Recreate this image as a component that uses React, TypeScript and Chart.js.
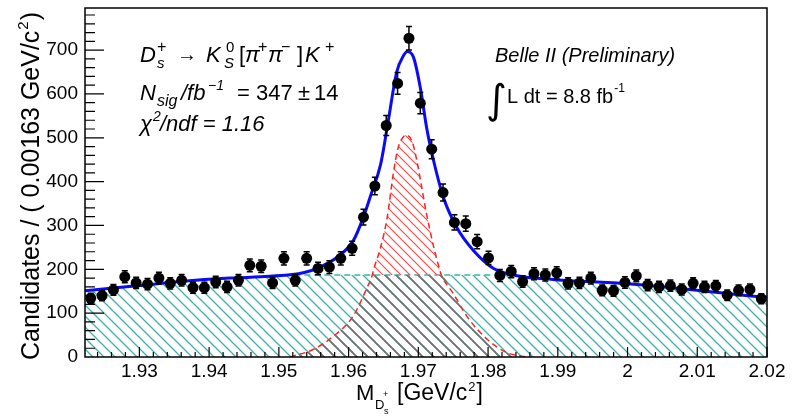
import React, { useEffect, useRef } from "react";
import { Chart, registerables } from "chart.js";

Chart.register(...registerables);

const FONT = "'Liberation Sans', Arial, sans-serif";

// Histogram binning
const X_MIN = 1.9222;
const X_MAX = 2.02;
const BIN_WIDTH = 0.00163;
const Y_MAX = 796;

// Candidates per bin (60 bins)
const counts = [
  134, 140, 153, 183, 169, 166, 180, 168, 175, 158,
  158, 171, 160, 175, 209, 207, 169, 225, 175, 225,
  202, 205, 225, 248, 319, 390, 528, 624, 727, 579,
  474, 375, 307, 304, 263, 226, 186, 195, 172, 190,
  187, 192, 168, 169, 180, 152, 151, 170, 185, 164,
  160, 163, 154, 168, 160, 162, 141, 152, 154, 133,
];

// Total fit curve
const fitX = [1.9222, 1.93, 1.9358, 1.943, 1.9487, 1.9535, 1.9559, 1.9584, 1.9607, 1.9621, 1.9632, 1.9646, 1.9656, 1.9669, 1.9679, 1.9684, 1.9693, 1.9703, 1.9712, 1.9722, 1.9736, 1.9755, 1.9779, 1.9808, 1.9846, 1.9893, 1.9942, 1.999, 2.0023, 2.0071, 2.0119, 2.0166, 2.02];
const fitY = [151, 163, 172, 180, 184, 192, 205, 228, 266, 318, 370, 440, 530, 650, 688, 697, 684, 613, 522, 447, 364, 296, 243, 202, 184, 177, 172, 168, 164, 157, 149, 141, 136];

// Signal component (red dashed)
const sigX = [1.9516, 1.9549, 1.9578, 1.9606, 1.9627, 1.9634, 1.9636, 1.9645, 1.9655, 1.9664, 1.9671, 1.9679, 1.9683, 1.9691, 1.9698, 1.9705, 1.971, 1.9722, 1.9731, 1.9733, 1.975, 1.977, 1.9799, 1.9827, 1.9856];
const sigY = [0, 17, 47, 92, 160, 187, 200, 245, 315, 417, 477, 503, 506, 492, 447, 386, 341, 251, 197, 187, 145, 92, 40, 10, 0];

// Background component (cyan)
const BKG_LEVEL = 187;
const bkgX = [1.9222, 1.93, 1.9358, 1.943, 1.9487, 1.95, 1.9836, 1.9846, 1.9893, 1.9942, 1.999, 2.0023, 2.0071, 2.0119, 2.0166, 2.02];
const bkgY = [151, 163, 172, 180, 184, 187, 187, 184, 177, 172, 168, 164, 157, 149, 141, 136];

const xTickValues = [1.93, 1.94, 1.95, 1.96, 1.97, 1.98, 1.99, 2.0, 2.01, 2.02];
const xTickLabels = ["1.93", "1.94", "1.95", "1.96", "1.97", "1.98", "1.99", "2", "2.01", "2.02"];
const yTickValues = [0, 100, 200, 300, 400, 500, 600, 700];
const yTickLabels = ["0", "100", "200", "300", "400", "500", "600", "700"];

function hatch(color: string, lw: number, s: number) {
  const c = document.createElement("canvas");
  c.width = s;
  c.height = s;
  const g = c.getContext("2d")!;
  g.strokeStyle = color;
  g.lineWidth = lw;
  g.beginPath();
  for (const k of [-1, 0, 1]) {
    g.moveTo(k * s - 1, -1);
    g.lineTo(k * s + s + 1, s + 1);
  }
  g.stroke();
  return g.createPattern(c, "repeat")!;
}

function txt(ctx: CanvasRenderingContext2D, s: string, x: number, y: number, size: number, italic = false, family = FONT) {
  ctx.font = `${italic ? "italic " : ""}${size}px ${family}`;
  ctx.fillText(s, x, y);
  return x + ctx.measureText(s).width;
}

const errorBars = {
  id: "errorBars",
  afterDatasetsDraw(chart: any) {
    const ctx = chart.ctx;
    const ys = chart.scales.y;
    const meta = chart.getDatasetMeta(0);
    ctx.save();
    ctx.strokeStyle = "#000";
    ctx.lineWidth = 1.5;
    meta.data.forEach((pt: any, i: number) => {
      const c = counts[i];
      const e = Math.sqrt(c);
      const y1 = ys.getPixelForValue(c + e);
      const y2 = ys.getPixelForValue(c - e);
      ctx.beginPath();
      ctx.moveTo(pt.x, y1);
      ctx.lineTo(pt.x, y2);
      ctx.moveTo(pt.x - 3, y1);
      ctx.lineTo(pt.x + 3, y1);
      ctx.moveTo(pt.x - 3, y2);
      ctx.lineTo(pt.x + 3, y2);
      ctx.stroke();
    });
    ctx.restore();
  },
};

const frameAndText = {
  id: "frameAndText",
  afterDraw(chart: any) {
    const ctx: CanvasRenderingContext2D = chart.ctx;
    const { left, right, top, bottom } = chart.chartArea;
    const xs = chart.scales.x;
    const ys = chart.scales.y;
    ctx.save();
    ctx.strokeStyle = "#000";
    ctx.lineWidth = 1.5;
    ctx.strokeRect(left, top, right - left, bottom - top);
    ctx.lineWidth = 1.2;
    ctx.beginPath();
    for (let k = 962; k <= 1010; k++) {
      const px = xs.getPixelForValue(k * 0.002);
      const len = k % 5 === 0 ? 10 : 5;
      ctx.moveTo(px, bottom);
      ctx.lineTo(px, bottom - len);
    }
    for (let k = 1; k <= 39; k++) {
      const py = ys.getPixelForValue(k * 20);
      const len = k % 5 === 0 ? 19 : 10;
      ctx.moveTo(left, py);
      ctx.lineTo(left + len, py);
    }
    ctx.stroke();

    ctx.fillStyle = "#000";
    ctx.textAlign = "left";
    ctx.textBaseline = "alphabetic";

    // Y title
    ctx.save();
    ctx.translate(39, 360);
    ctx.rotate(-Math.PI / 2);
    let e = txt(ctx, "Candidates / ( 0.00163 GeV/c", 0, 0, 25);
    e = txt(ctx, "2", e + 1, -11, 15);
    txt(ctx, ")", e + 1, 0, 25);
    ctx.restore();

    // X title
    txt(ctx, "M", 356, 400, 22);
    txt(ctx, "D", 375, 409, 13);
    txt(ctx, "s", 384, 414, 9);
    txt(ctx, "+", 383, 397, 9);
    e = txt(ctx, "[GeV/c", 397, 400, 23);
    e = txt(ctx, "2", e + 1, 391, 13);
    txt(ctx, "]", e + 1, 400, 23);

    // Decay annotation
    txt(ctx, "D", 140, 62, 22, true);
    txt(ctx, "s", 157, 68, 15, true);
    txt(ctx, "+", 157, 52, 16);
    txt(ctx, "\u2192", 177, 61, 20);
    txt(ctx, "K", 206, 62, 22, true);
    txt(ctx, "S", 224, 68, 15, true);
    txt(ctx, "0", 226, 52, 15);
    txt(ctx, "[", 239, 62, 22);
    txt(ctx, "\u03c0", 245, 62, 22, true);
    txt(ctx, "+", 258, 52, 16);
    txt(ctx, "\u03c0", 268, 62, 22, true);
    txt(ctx, "\u2212", 281, 52, 16);
    txt(ctx, "]", 297, 62, 22);
    txt(ctx, "K", 305, 62, 22, true);
    txt(ctx, "+", 325, 52, 16);

    txt(ctx, "N", 140, 100, 22, true);
    txt(ctx, "sig", 157, 106, 16, true);
    txt(ctx, "/fb", 181, 100, 22, true);
    txt(ctx, "\u22121", 208, 90, 14, true);
    txt(ctx, "=", 237, 100, 22);
    txt(ctx, "347", 256, 100, 22);
    txt(ctx, "\u00b1", 298, 100, 22);
    txt(ctx, "14", 314, 100, 22);

    txt(ctx, "\u03c7", 140, 131, 22, true);
    txt(ctx, "2", 153, 121, 14, true);
    txt(ctx, "/ndf = 1.16", 160, 131, 22, true);

    txt(ctx, "Belle II (Preliminary)", 495, 62, 20, true);
    txt(ctx, "\u222b", 486, 113, 40, false, "'DejaVu Sans'");
    e = txt(ctx, "L dt = 8.8 fb", 507, 103, 20);
    txt(ctx, "-1", e + 1, 92, 12);
    ctx.restore();
  },
};

export default function App() {
  const ref = useRef<HTMLCanvasElement>(null);
  useEffect(() => {
    const canvas = ref.current!;
    const cyanPat = hatch("#3cb2ab", 1.3, 11);
    const redPat = hatch("#ff4a4a", 1.2, 9);
    const grayPat = hatch("#707070", 1.6, 11);
    const chart = new Chart(canvas, {
      type: "line",
      data: {
        datasets: [
          {
            label: "data",
            data: counts.map((c, i) => ({ x: X_MIN + (i + 0.5) * BIN_WIDTH, y: c })),
            showLine: false,
            pointRadius: 5.5,
            pointBackgroundColor: "#000",
            pointBorderColor: "#000",
            pointBorderWidth: 0,
          },
          {
            label: "fit",
            data: fitX.map((x, i) => ({ x, y: fitY[i] })),
            borderColor: "#0b0bf5",
            borderWidth: 3,
            pointRadius: 0,
            cubicInterpolationMode: "monotone",
            fill: false,
          },
          {
            label: "overlap",
            data: sigX.map((x, i) => ({ x, y: Math.min(sigY[i], BKG_LEVEL) })),
            borderWidth: 0,
            borderColor: "rgba(0,0,0,0)",
            pointRadius: 0,
            cubicInterpolationMode: "monotone",
            fill: "origin",
            backgroundColor: grayPat,
          },
          {
            label: "signal",
            data: sigX.map((x, i) => ({ x, y: sigY[i] })),
            borderColor: "#ff2020",
            borderWidth: 1.5,
            borderDash: [6, 4],
            pointRadius: 0,
            cubicInterpolationMode: "monotone",
            fill: { target: { value: BKG_LEVEL }, above: redPat, below: "rgba(0,0,0,0)" },
          },
          {
            label: "background",
            data: bkgX.map((x, i) => ({ x, y: bkgY[i] })),
            borderColor: "#3cb2ab",
            borderWidth: 1.5,
            borderDash: [6, 4],
            pointRadius: 0,
            cubicInterpolationMode: "monotone",
            fill: "origin",
            backgroundColor: cyanPat,
          },
        ],
      },
      options: {
        animation: false,
        responsive: false,
        events: [],
        layout: { padding: { left: 0, top: 8, right: 27, bottom: 0 } },
        plugins: { legend: { display: false }, tooltip: { enabled: false } },
        scales: {
          x: {
            type: "linear",
            min: X_MIN,
            max: X_MAX,
            grid: { display: false, drawTicks: false },
            border: { display: false },
            afterBuildTicks: (s: any) => {
              s.ticks = xTickValues.map((v) => ({ value: v }));
            },
            afterFit: (s: any) => {
              s.height = 59;
              s.paddingLeft = 0;
              s.paddingRight = 0;
            },
            ticks: {
              autoSkip: false,
              maxRotation: 0,
              padding: 3,
              color: "#000",
              font: { size: 19, family: FONT },
              callback: (v: any) => {
                const i = xTickValues.findIndex((t) => Math.abs(t - v) < 1e-6);
                return i >= 0 ? xTickLabels[i] : "";
              },
            },
          },
          y: {
            type: "linear",
            min: 0,
            max: Y_MAX,
            grid: { display: false, drawTicks: false },
            border: { display: false },
            afterBuildTicks: (s: any) => {
              s.ticks = yTickValues.map((v) => ({ value: v }));
            },
            afterFit: (s: any) => {
              s.width = 85;
              s.paddingTop = 0;
              s.paddingBottom = 0;
            },
            ticks: {
              padding: 7,
              color: "#000",
              font: { size: 19, family: FONT },
              callback: (v: any) => {
                const i = yTickValues.indexOf(v);
                return i >= 0 ? yTickLabels[i] : "";
              },
            },
          },
        },
      },
      plugins: [errorBars, frameAndText],
    } as any);
    return () => chart.destroy();
  }, []);

  return (
    <div style={{ position: "fixed", left: 0, top: 0, width: 794, height: 416, background: "#fff" }}>
      <canvas ref={ref} width={794} height={416} />
    </div>
  );
}
